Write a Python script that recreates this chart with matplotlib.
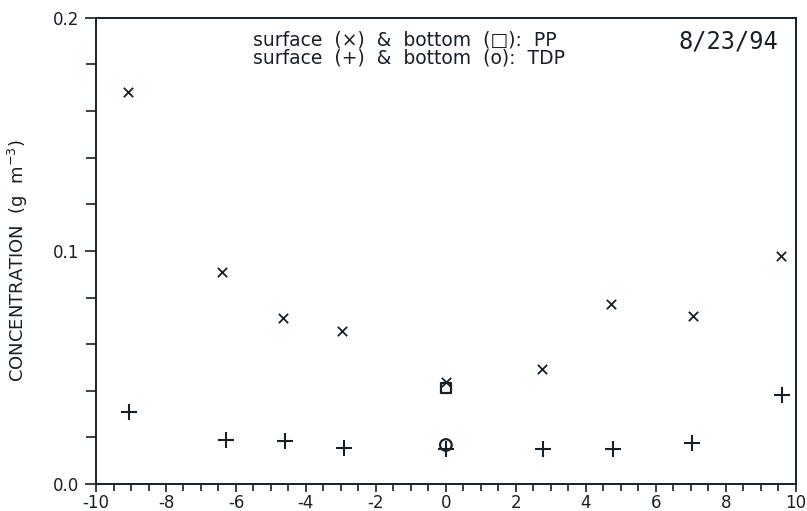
import numpy as np
import matplotlib.pyplot as plt
from matplotlib.ticker import MultipleLocator

# surface / bottom concentrations along the transect, 8/23/94
pp_surf_x = [-9.1, -6.4, -4.66, -2.97, 0.0, 2.74, 4.71, 7.06, 9.57]
pp_surf_y = [0.168, 0.091, 0.0712, 0.0657, 0.0438, 0.0494, 0.0773, 0.0721, 0.0979]
pp_bot_x = [0.0]
pp_bot_y = [0.0412]

tdp_surf_x = [-9.06, -6.29, -4.6, -2.91, 0.0, 2.77, 4.77, 7.03, 9.6]
tdp_surf_y = [0.0309, 0.0189, 0.0185, 0.0155, 0.015, 0.015, 0.015, 0.0176, 0.0382]
tdp_bot_x = [0.0]
tdp_bot_y = [0.0167]

ink = '#16202a'
plt.rcParams['font.family'] = ['DejaVu Sans']

fig = plt.figure(figsize=(8.07, 5.11), dpi=100)
ax = fig.add_axes([0.119, 0.053, 0.867, 0.912])

ax.scatter(pp_surf_x, pp_surf_y, marker='x', s=45, color=ink, linewidths=1.3)
ax.scatter(pp_bot_x, pp_bot_y, marker='s', s=55, facecolors='none', edgecolors=ink, linewidths=1.6)
ax.scatter(tdp_surf_x, tdp_surf_y, marker='+', s=120, color=ink, linewidths=1.5)
ax.scatter(tdp_bot_x, tdp_bot_y, marker='o', s=70, facecolors='none', edgecolors=ink, linewidths=1.6)

ax.set_xlim(-10, 10)
ax.set_ylim(0, 0.2)
ax.xaxis.set_major_locator(MultipleLocator(2))
ax.xaxis.set_minor_locator(MultipleLocator(0.5))
ax.yaxis.set_major_locator(MultipleLocator(0.1))
ax.yaxis.set_minor_locator(MultipleLocator(0.02))
ax.xaxis.set_major_formatter(plt.FuncFormatter(lambda v, p: '%d' % v))
ax.yaxis.set_major_formatter(plt.FuncFormatter(lambda v, p: '%.1f' % v))

ax.tick_params(which='both', direction='out', colors=ink, labelsize=12, width=1.2)
ax.tick_params(axis='x', which='major', length=6, pad=1)
ax.tick_params(axis='x', which='minor', length=5)
ax.tick_params(axis='y', which='major', length=8, pad=4)
ax.tick_params(axis='y', which='minor', length=7)
for s in ax.spines.values():
    s.set_color(ink)
    s.set_linewidth(1.4)

ax.set_ylabel('CONCENTRATION  (g  m$^{-3}$)', fontsize=13, color=ink, labelpad=8)
ax.yaxis.set_label_coords(-0.095, 0.48)

ax.text(0.225, 0.953, 'surface  (×)  &  bottom  (□):  PP', transform=ax.transAxes,
        fontsize=13.5, color=ink, va='center', ha='left')
ax.text(0.225, 0.914, 'surface  (+)  &  bottom  (o):  TDP', transform=ax.transAxes,
        fontsize=13.5, color=ink, va='center', ha='left')
ax.text(0.975, 0.95, '8/23/94', transform=ax.transAxes, family='DejaVu Sans Mono',
        fontsize=17, color=ink, va='center', ha='right')

fig.savefig('out.png', dpi=100)
